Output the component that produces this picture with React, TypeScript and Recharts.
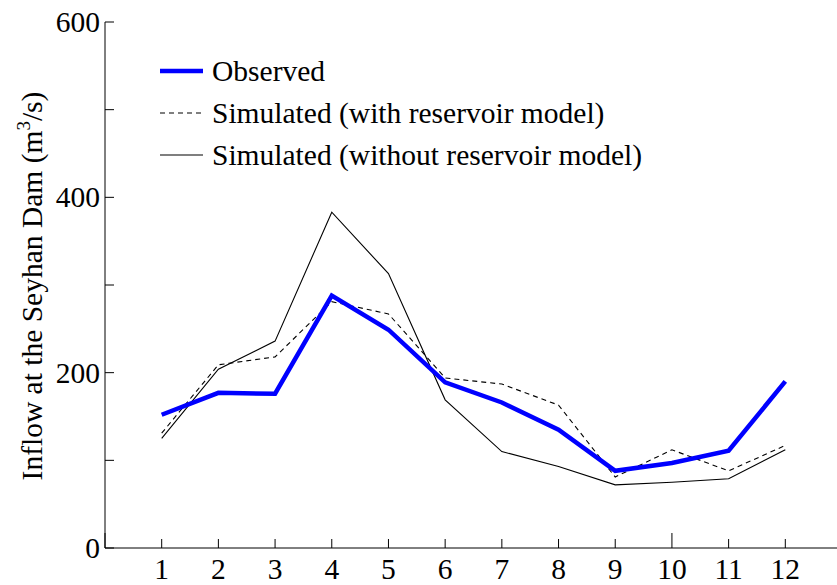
import React from 'react';
import { LineChart, Line, XAxis, YAxis, Legend } from 'recharts';

// monthly mean inflow at the Seyhan Dam (m3/s)
const months = [1, 2, 3, 4, 5, 6, 7, 8, 9, 10, 11, 12];
const observed = [152, 177, 176, 288, 249, 189, 166, 135, 88, 97, 111, 190];
const simWithReservoir = [131, 209, 218, 281, 267, 194, 187, 163, 81, 112, 88, 117];
const simWithoutReservoir = [125, 204, 236, 383, 313, 169, 110, 93, 72, 75, 79, 112];

const xTicks = [0, 1, 2, 3, 4, 5, 6, 7, 8, 9, 10, 11, 12];
const yTicks = [0, 100, 200, 300, 400, 500, 600];
const yLabels = [0, 200, 400, 600];

const legendItems = [
  { key: 'observed', name: 'Observed', color: '#0000ff', width: 4.5, dash: undefined },
  { key: 'withRes', name: 'Simulated (with reservoir model)', color: '#000', width: 1.1, dash: '5 4' },
  { key: 'withoutRes', name: 'Simulated (without reservoir model)', color: '#000', width: 1.1, dash: undefined },
];

const data = months.map((m, i) => ({
  month: m,
  observed: observed[i],
  withRes: simWithReservoir[i],
  withoutRes: simWithoutReservoir[i],
}));

const FONT = "'Liberation Serif', 'DejaVu Serif', serif";
const FS = 29.5;
const txt = { fontFamily: FONT, fontSize: FS };

const BottomTick = (props: any) => {
  const { x, y, payload } = props;
  const v = payload.value;
  const len = v % 10 === 0 ? 15 : 9;
  return (
    <g>
      <line x1={x} y1={y} x2={x} y2={y - len} stroke="#000" strokeWidth={1} />
      {v >= 1 && v <= 12 && (
        <text x={x} y={y + 31} textAnchor="middle" style={txt} fill="#000">
          {v}
        </text>
      )}
    </g>
  );
};

const TopTick = (props: any) => {
  const { x, y, payload } = props;
  const len = payload.value % 10 === 0 ? 15 : 9;
  return <line x1={x} y1={y} x2={x} y2={y + len} stroke="#000" strokeWidth={1} />;
};

const LeftTick = (props: any) => {
  const { x, y, payload } = props;
  const v = payload.value;
  return (
    <g>
      <line x1={x} y1={y} x2={x + 9} y2={y} stroke="#000" strokeWidth={1} />
      {yLabels.includes(v) && (
        <text x={x - 5} y={y + 10} textAnchor="end" style={txt} fill="#000">
          {v}
        </text>
      )}
    </g>
  );
};

const RightTick = (props: any) => {
  const { x, y } = props;
  return <line x1={x} y1={y} x2={x - 9} y2={y} stroke="#000" strokeWidth={1} />;
};

const YTitle = (props: any) => {
  const vb = props.viewBox || { x: 0, y: 0, width: 0, height: 0 };
  const cx = vb.x + 42;
  const cy = vb.y + vb.height / 2 + 1;
  return (
    <text x={cx} y={cy} transform={`rotate(-90, ${cx}, ${cy})`} textAnchor="middle" style={txt} fill="#000">
      Inflow at the Seyhan Dam (m
      <tspan dy={-12} style={{ fontSize: 19 }}>3</tspan>
      <tspan dy={12}>/s)</tspan>
    </text>
  );
};

const LegendBox = () => (
  <svg width={620} height={130}>
    {legendItems.map((it, i) => {
      const cy = 26 + i * 42;
      return (
        <g key={it.key}>
          <line x1={5} y1={cy} x2={48} y2={cy} stroke={it.color} strokeWidth={it.width} strokeDasharray={it.dash} />
          <text x={57} y={cy + 10} style={txt} fill="#000">
            {it.name}
          </text>
        </g>
      );
    })}
  </svg>
);

export default function App() {
  return (
    <div style={{ position: 'absolute', left: 0, top: 0, width: 837, height: 585, overflow: 'hidden', background: '#fff' }}>
      <LineChart width={843} height={585} data={data} margin={{ top: 22, right: 1, bottom: 0, left: 0 }}>
        <XAxis
          xAxisId="bottom"
          dataKey="month"
          type="number"
          domain={[0, 13]}
          ticks={xTicks}
          interval={0}
          height={37}
          tickSize={0}
          tickMargin={0}
          tickLine={false}
          axisLine={{ stroke: '#000', strokeWidth: 1 }}
          tick={<BottomTick />}
        />
        <XAxis
          xAxisId="top"
          orientation="top"
          dataKey="month"
          type="number"
          domain={[0, 13]}
          ticks={xTicks}
          interval={0}
          height={0}
          tickSize={0}
          tickMargin={0}
          tickLine={false}
          axisLine={{ stroke: '#000', strokeWidth: 1 }}
          tick={<TopTick />}
        />
        <YAxis
          yAxisId="left"
          type="number"
          domain={[0, 600]}
          ticks={yTicks}
          interval={0}
          width={105}
          tickSize={0}
          tickMargin={0}
          tickLine={false}
          axisLine={{ stroke: '#000', strokeWidth: 1 }}
          tick={<LeftTick />}
          label={<YTitle />}
        />
        <YAxis
          yAxisId="right"
          orientation="right"
          type="number"
          domain={[0, 600]}
          ticks={yTicks}
          interval={0}
          width={0}
          tickSize={0}
          tickMargin={0}
          tickLine={false}
          axisLine={{ stroke: '#000', strokeWidth: 1 }}
          tick={<RightTick />}
        />
        <Legend
          layout="horizontal"
          verticalAlign="middle"
          align="center"
          content={<LegendBox />}
          wrapperStyle={{ position: 'absolute', left: 155, top: 45, width: 620, height: 130 }}
        />
        <Line
          xAxisId="bottom"
          yAxisId="left"
          dataKey="withoutRes"
          name="Simulated (without reservoir model)"
          stroke="#000"
          strokeWidth={1.1}
          dot={false}
          isAnimationActive={false}
        />
        <Line
          xAxisId="bottom"
          yAxisId="left"
          dataKey="withRes"
          name="Simulated (with reservoir model)"
          stroke="#000"
          strokeWidth={1.1}
          strokeDasharray="5 4"
          dot={false}
          isAnimationActive={false}
        />
        <Line
          xAxisId="bottom"
          yAxisId="left"
          dataKey="observed"
          name="Observed"
          stroke="#0000ff"
          strokeWidth={4.5}
          dot={false}
          isAnimationActive={false}
        />
      </LineChart>
    </div>
  );
}
